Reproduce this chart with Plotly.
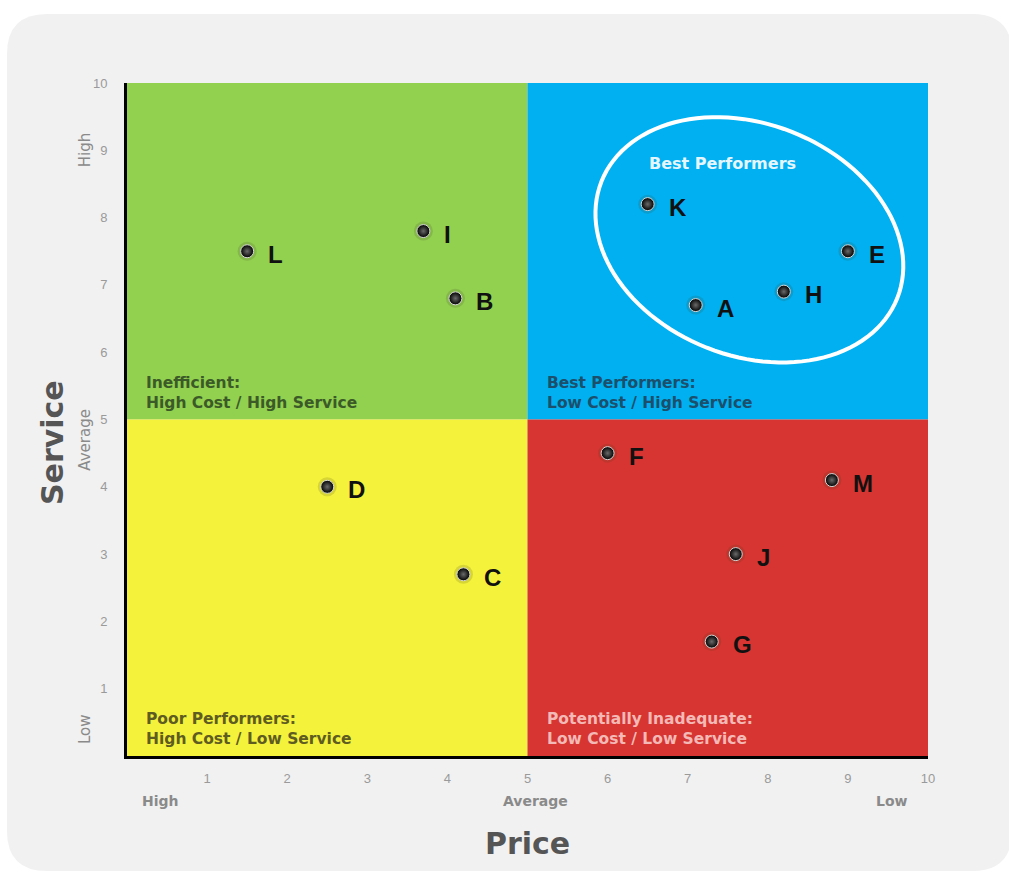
import numpy as np
import plotly.graph_objects as go

# ---- data ----
names = ["A", "B", "C", "D", "E", "F", "G", "H", "I", "J", "K", "L", "M"]
price = [7.1, 4.1, 4.2, 2.5, 9.0, 6.0, 7.3, 8.2, 3.7, 7.6, 6.5, 1.5, 8.8]
service = [6.7, 6.8, 2.7, 4.0, 7.5, 4.5, 1.7, 6.9, 7.8, 3.0, 8.2, 7.5, 4.1]
tick_vals = [1, 2, 3, 4, 5, 6, 7, 8, 9, 10]

quadrants = [
    # x0, x1, y0, y1, fill, title, subtitle, text colour
    (0, 5, 5, 10, "#92d050", "Inefficient:", "High Cost / High Service", "#3b5a27"),
    (5, 10, 5, 10, "#00b0f0", "Best Performers:", "Low Cost / High Service", "#1c4f6b"),
    (0, 5, 0, 5, "#f4f23a", "Poor Performers:", "High Cost / Low Service", "#5f5c22"),
    (5, 10, 0, 5, "#d73531", "Potentially Inadequate:", "Low Cost / Low Service", "#f3b9b6"),
]

# ellipse around best performers (data units)
ell_cx, ell_cy = 7.77, 7.67
ell_a_px, ell_b_px, ell_rot_deg = 159, 116, 21.5

W, H = 1009, 874
ML, MR, MT, MB = 127, 81, 83, 118
PW, PH = W - ML - MR, H - MT - MB
xpx = PW / 10.0
ypx = PH / 10.0

fig = go.Figure()

shapes = []
def px2paper(px, py):
    return (px - ML) / PW, (H - MB - py) / PH

cx0, cy0, cx1, cy1, r = 7, 14, 1012, 871, 40
def P(px, py):
    x, y = px2paper(px, py)
    return f"{x:.5f},{y:.5f}"
card = (f"M {P(cx0+r, cy0)} L {P(cx1-r, cy0)} Q {P(cx1, cy0)} {P(cx1, cy0+r)} "
        f"L {P(cx1, cy1-r)} Q {P(cx1, cy1)} {P(cx1-r, cy1)} L {P(cx0+r, cy1)} "
        f"Q {P(cx0, cy1)} {P(cx0, cy1-r)} L {P(cx0, cy0+r)} Q {P(cx0, cy0)} {P(cx0+r, cy0)} Z")
shapes.append(dict(type="path", path=card, xref="paper", yref="paper",
                   fillcolor="#f1f1f1", line=dict(width=0), layer="below"))

annotations = []
for x0, x1, y0, y1, fill, t1, t2, tc in quadrants:
    shapes.append(dict(type="rect", x0=x0, x1=x1, y0=y0, y1=y1, xref="x", yref="y",
                       fillcolor=fill, line=dict(width=0), layer="below"))
    annotations.append(dict(x=x0, y=y0, xref="x", yref="y", xanchor="left", yanchor="bottom",
                            xshift=17, yshift=6, align="left", showarrow=False,
                            text=f"{t1}<br>{t2}",
                            font=dict(family="DejaVu Sans", size=15.5, color=tc, weight="bold")))

# ellipse path
t = np.linspace(0, 2 * np.pi, 121)
th = np.deg2rad(ell_rot_deg)
ex_px = ell_a_px * np.cos(t) * np.cos(th) - ell_b_px * np.sin(t) * np.sin(th)
ey_px = ell_a_px * np.cos(t) * np.sin(th) + ell_b_px * np.sin(t) * np.cos(th)
ex = ell_cx + ex_px / xpx
ey = ell_cy - ey_px / ypx
epath = "M " + " L ".join(f"{a:.4f},{b:.4f}" for a, b in zip(ex, ey)) + " Z"
shapes.append(dict(type="path", path=epath, xref="x", yref="y",
                   line=dict(color="white", width=4), fillcolor="rgba(0,0,0,0)"))

annotations.append(dict(x=7.43, y=8.81, xref="x", yref="y", showarrow=False,
                        xanchor="center", yanchor="middle",
                        text="Best Performers",
                        font=dict(family="DejaVu Sans", size=16, color="#e6f6ff", weight="bold")))

# shadows & markers
fig.add_trace(go.Scatter(x=price, y=service, mode="markers", hoverinfo="skip",
                         marker=dict(size=19, color="rgba(60,60,30,0.16)", line=dict(width=0))))
fig.add_trace(go.Scatter(x=price, y=service, mode="markers", text=names,
                         marker=dict(size=13, color="#000000",
                                     gradient=dict(type="radial", color="#6a6a6a"),
                                     line=dict(width=1, color="#d8d8d8"))))

for n, xv, yv in zip(names, price, service):
    annotations.append(dict(x=xv, y=yv, xref="x", yref="y", text=n, showarrow=False,
                            xanchor="left", yanchor="middle", xshift=19, yshift=-3,
                            font=dict(family="Liberation Sans", size=24, color="#111", weight="bold")))

# side labels
ylab_font = dict(family="DejaVu Sans", size=15, color="#8a8a8a")
xlab_font = dict(family="DejaVu Sans", size=14, color="#8a8a8a", weight="bold")
for txt, yv in [("High", 9.0), ("Average", 4.7), ("Low", 0.4)]:
    annotations.append(dict(x=(85 - ML) / PW, y=yv, xref="paper", yref="y", text=txt,
                            xanchor="center", yanchor="middle",
                            showarrow=False, textangle=-90, font=ylab_font))
for txt, xv in [("High", 0.42), ("Average", 5.1), ("Low", 9.55)]:
    annotations.append(dict(x=xv, y=-(801 - (H - MB)) / PH, xref="x", yref="paper", text=txt,
                            xanchor="center", yanchor="middle",
                            showarrow=False, font=xlab_font))

title_font = dict(family="DejaVu Sans", size=30, color="#555555", weight="bold")
annotations.append(dict(x=5.0, y=-(843 - (H - MB)) / PH, xref="x", yref="paper", text="Price",
                        xanchor="center", yanchor="middle", showarrow=False, font=title_font))
annotations.append(dict(x=(52 - ML) / PW, y=4.65, xref="paper", yref="y", text="Service",
                        xanchor="center", yanchor="middle",
                        showarrow=False, textangle=-90, font=title_font))

tick_font = dict(family="Liberation Sans", size=13, color="#9a9a9a")
fig.update_layout(
    width=W, height=H,
    margin=dict(l=ML, r=MR, t=MT, b=MB),
    paper_bgcolor="white", plot_bgcolor="rgba(0,0,0,0)",
    showlegend=False,
    shapes=shapes, annotations=annotations,
    xaxis=dict(range=[0, 10], tickvals=tick_vals, showgrid=False, zeroline=False,
               showline=True, linecolor="black", linewidth=3, ticks="",
               ticklabelstandoff=8, tickfont=tick_font, fixedrange=True),
    yaxis=dict(range=[0, 10], tickvals=tick_vals, showgrid=False, zeroline=False,
               showline=True, linecolor="black", linewidth=3, ticks="",
               ticklabelstandoff=14, tickfont=tick_font, fixedrange=True),
)

fig.write_html("out.html")
